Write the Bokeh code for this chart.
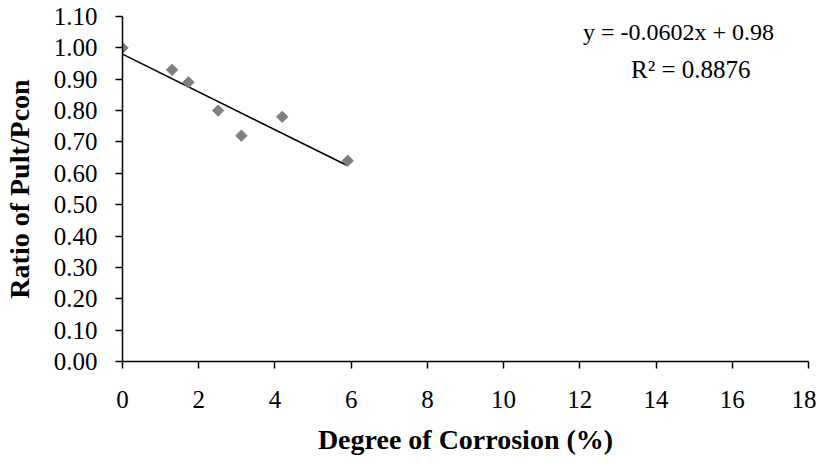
from bokeh.plotting import figure
from bokeh.models import Range1d, FixedTicker, PrintfTickFormatter, Label
from bokeh.embed import file_html
from bokeh.resources import INLINE
import numpy as np

# ---- data ----
corrosion = [0.0, 1.3, 1.73, 2.51, 3.12, 4.19, 5.91]
ratio = [1.00, 0.93, 0.89, 0.80, 0.72, 0.78, 0.64]
slope = -0.0602
intercept = 0.98
x_ticks = [0, 2, 4, 6, 8, 10, 12, 14, 16, 18]
y_ticks = [0.0, 0.1, 0.2, 0.3, 0.4, 0.5, 0.6, 0.7, 0.8, 0.9, 1.0, 1.1]
eq_text = "y = -0.0602x + 0.98"
r2_text = "R\u00b2 = 0.8876"
x_title = "Degree of Corrosion (%)"
y_title = "Ratio of Pult/Pcon"

FONT = "Liberation Serif"

p = figure(width=816, height=457, output_backend="svg", toolbar_location=None,
           x_range=Range1d(0, 18), y_range=Range1d(0, 1.1),
           min_border_left=122, min_border_right=8, min_border_top=16,
           min_border_bottom=96)
p.outline_line_color = None
p.grid.visible = False
p.background_fill_color = "white"

# trendline
tx = np.array([min(corrosion), max(corrosion)])
ty = slope * tx + intercept
p.line(tx, ty, line_color="black", line_width=1.6)

# points
p.scatter(corrosion, ratio, marker="square", size=8, angle=np.pi / 4,
          fill_color="#7f7f7f", line_color="#7f7f7f")

for ax in (p.xaxis[0], p.yaxis[0]):
    ax.axis_line_color = "black"
    ax.axis_line_width = 1.5
    ax.major_tick_line_color = "black"
    ax.major_tick_line_width = 1.5
    ax.major_tick_out = 7
    ax.major_tick_in = 0
    ax.minor_tick_line_color = None
    ax.major_label_text_font = FONT
    ax.major_label_text_font_size = "25px"
    ax.major_label_text_color = "black"
    ax.axis_label_text_font = FONT
    ax.axis_label_text_font_size = "28px"
    ax.axis_label_text_font_style = "bold"
    ax.axis_label_text_color = "black"

p.xaxis[0].major_label_standoff = 22
p.yaxis[0].major_label_standoff = 18
p.xaxis[0].ticker = FixedTicker(ticks=x_ticks)
p.yaxis[0].ticker = FixedTicker(ticks=y_ticks)
p.yaxis[0].formatter = PrintfTickFormatter(format="%.2f")
p.xaxis[0].axis_label = x_title
p.yaxis[0].axis_label = y_title
p.xaxis[0].axis_label_standoff = 13
p.yaxis[0].axis_label_standoff = 16

p.add_layout(Label(x=14.59, y=1.051, text=eq_text, text_align="center",
                   text_baseline="alphabetic", text_font=FONT,
                   text_font_size="24px", text_color="black"))
p.add_layout(Label(x=14.91, y=0.93, text=r2_text, text_align="center",
                   text_baseline="alphabetic", text_font=FONT,
                   text_font_size="25px", text_color="black"))

open("out.html", "w").write(file_html(p, INLINE))
